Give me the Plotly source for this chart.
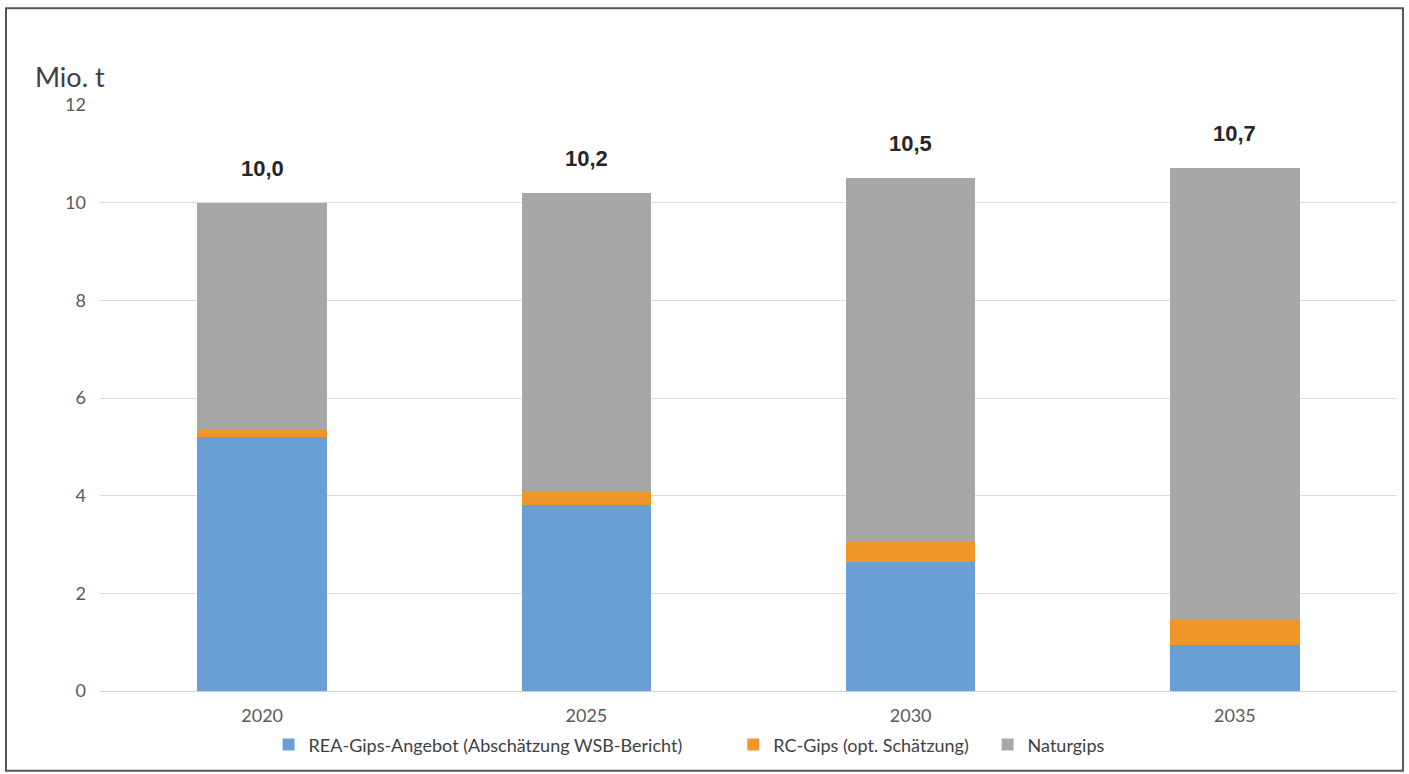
import plotly.graph_objects as go

years = ["2020", "2025", "2030", "2035"]
rea = [5.2, 3.8, 2.65, 0.95]
rc = [0.15, 0.3, 0.4, 0.5]
totals = [10.0, 10.2, 10.5, 10.7]
natur = [t - a - b for t, a, b in zip(totals, rea, rc)]
total_labels = ["10,0", "10,2", "10,5", "10,7"]
y_ticks = [0, 2, 4, 6, 8, 10, 12]

names = ["REA-Gips-Angebot (Abschätzung WSB-Bericht)", "RC-Gips (opt. Schätzung)", "Naturgips"]
legend_pad = [10, 3, 0]
colors = ["#6a9fd6", "#f0962a", "#a7a7a7"]

fig = go.Figure()
for name, pad, vals, col in zip(names, legend_pad, [rea, rc, natur], colors):
    fig.add_trace(go.Bar(x=years, y=vals, name=name + "\u00a0" * pad, marker_color=col,
                         marker_line_width=0, width=0.4))

for i, (t, lab) in enumerate(zip(totals, total_labels)):
    fig.add_annotation(x=i, y=t, text="<b>" + lab + "</b>", showarrow=False, yanchor="bottom", yshift=20,
                       font=dict(family="Liberation Sans, Arial", size=22, color="#262626"),
                       xref="x", yref="y")

fig.add_annotation(x=-0.052, y=1.048, xref="paper", yref="paper", text="Mio. t",
                   showarrow=False, xanchor="left", yanchor="middle",
                   font=dict(family="Lato, Open Sans", size=27, color="#404040"))

# frame
fig.add_shape(type="rect", xref="paper", yref="paper", x0=-0.0725, x1=1.0046, y0=-0.136, y1=1.165,
              line=dict(color="#555555", width=2), fillcolor="rgba(0,0,0,0)", layer="below")

fig.update_layout(
    width=1409, height=774,
    margin=dict(l=100, r=12, t=105, b=82),
    barmode="stack",
    plot_bgcolor="white", paper_bgcolor="white",
    showlegend=True,
    legend=dict(orientation="h", x=0.4542, xanchor="center", y=-0.09, yanchor="middle",
                font=dict(family="Lato, Open Sans", size=18, color="#404040"),
                itemwidth=30, traceorder="normal"),
    font=dict(family="Lato, Open Sans", color="#595959"),
)
fig.update_xaxes(type="category", range=[-0.5, 3.5], showgrid=False, showline=False, ticks="",
                 tickfont=dict(size=18, color="#595959"), ticklabelstandoff=12)
fig.update_yaxes(range=[0, 12], tickvals=y_ticks, showgrid=True, gridcolor="#dcdcdc", gridwidth=1,
                 zeroline=True, zerolinecolor="#d0d0d0", zerolinewidth=1,
                 tickfont=dict(size=18, color="#595959"), ticklabelstandoff=13)

fig.write_html("out.html")
